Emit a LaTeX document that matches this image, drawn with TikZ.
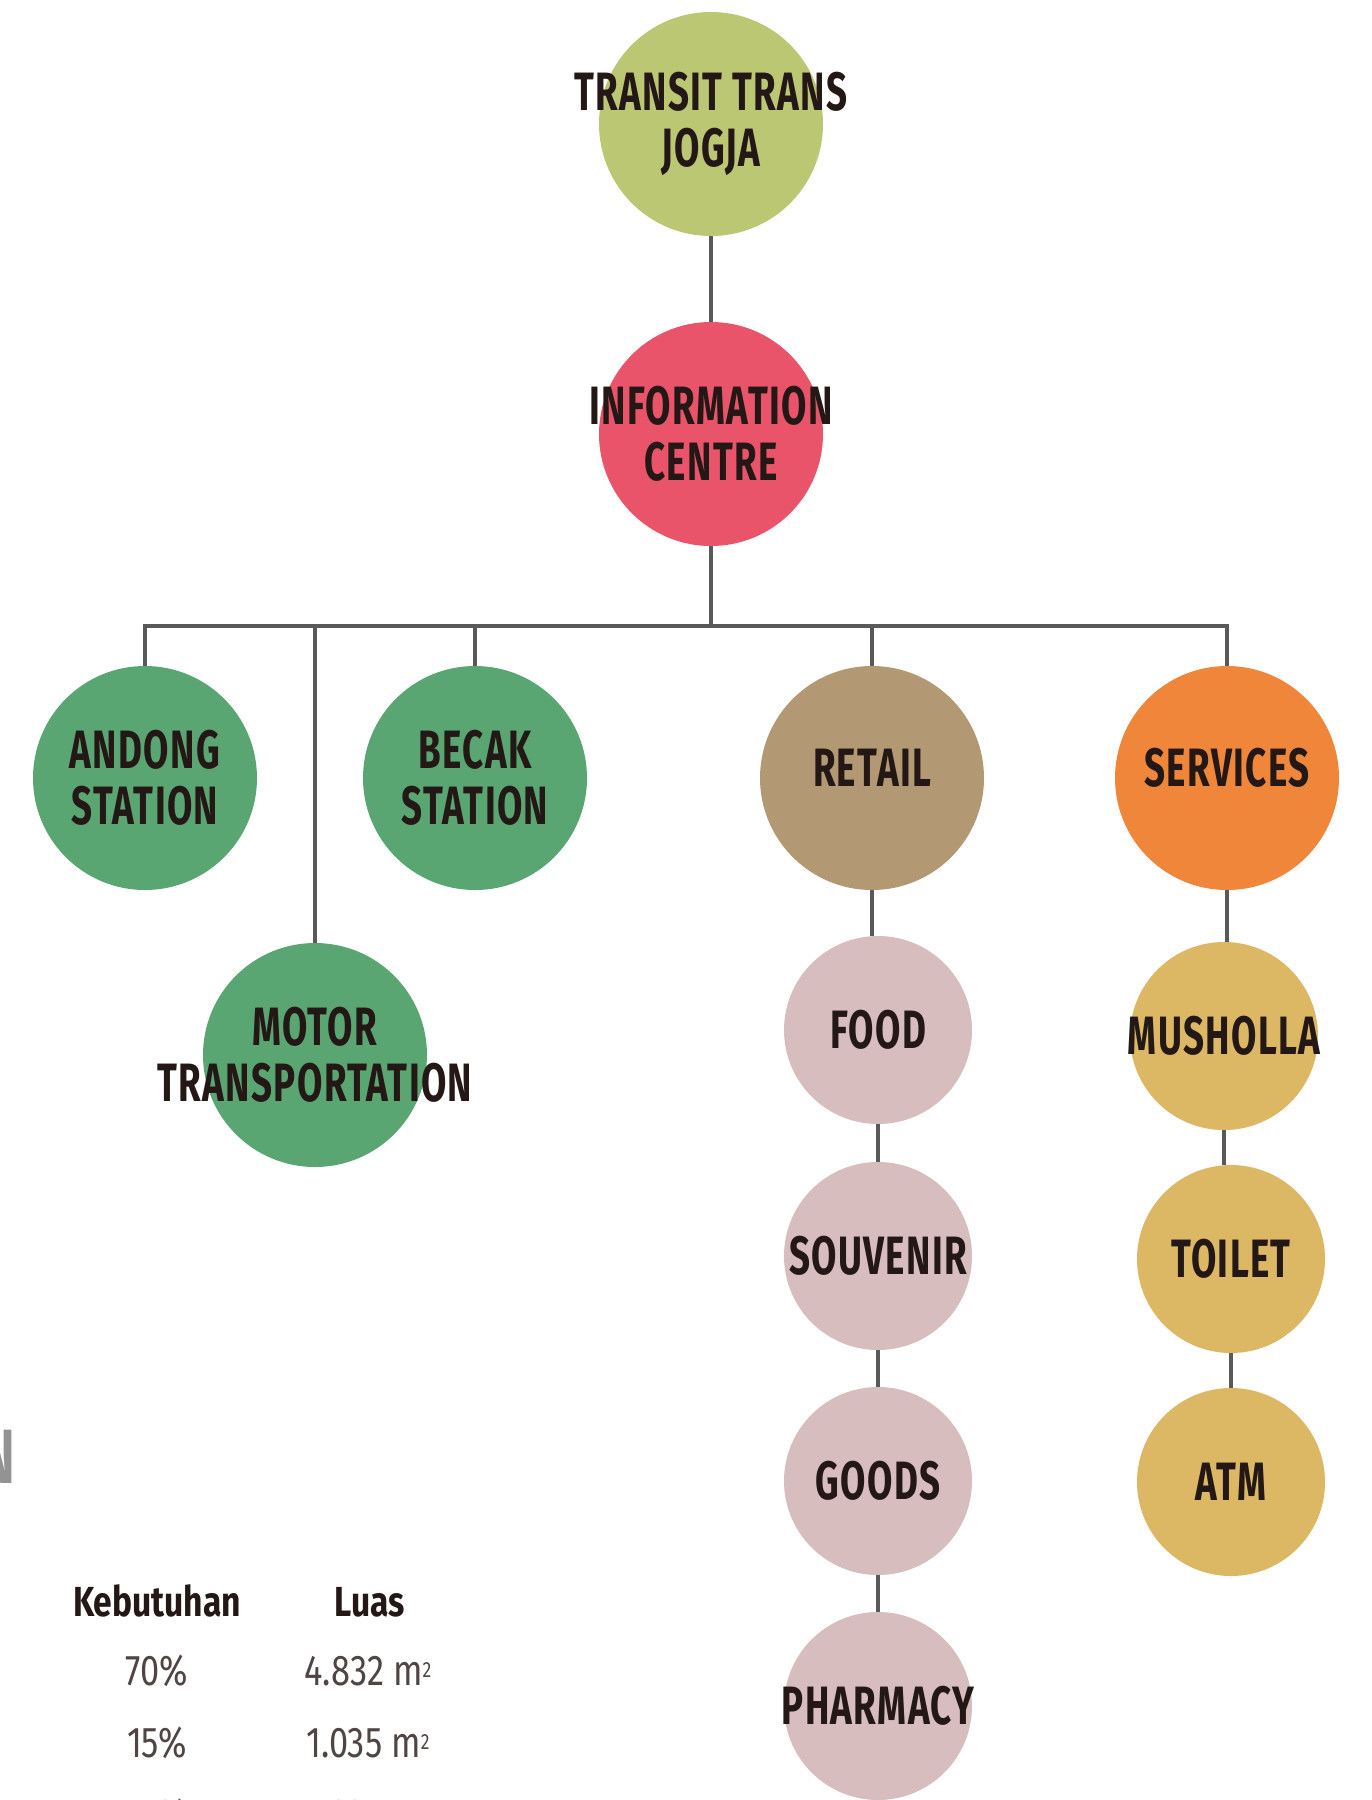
\documentclass[tikz,border=0pt]{standalone}
\usepackage{fontspec}
\setmainfont{Fira Sans}
\newfontfamily\condfont{Fira Sans}[FakeStretch=0.68, LetterSpace=2.5]
\newfontfamily\tablefont{Fira Sans}[FakeStretch=0.8]
\usetikzlibrary{calc}

\definecolor{ink}{HTML}{231815}
\definecolor{linegray}{HTML}{595959}
\definecolor{transitgreen}{HTML}{BCC773}
\definecolor{infored}{HTML}{E9546B}
\definecolor{stationgreen}{HTML}{5AA673}
\definecolor{retailbrown}{HTML}{B39874}
\definecolor{serviceorange}{HTML}{F0863A}
\definecolor{retailpink}{HTML}{D7BDBE}
\definecolor{serviceyellow}{HTML}{DCB865}

\newcommand{\sqm}{m\raisebox{8pt}{\fontsize{22}{22}\selectfont 2}}

\begin{document}
\begin{tikzpicture}[x=1pt, y=-1pt,
  bigc/.style={circle, minimum size=224pt, inner sep=0pt},
  smallc/.style={circle, minimum size=188pt, inner sep=0pt},
  lbl/.style={font=\condfont\bfseries\fontsize{54}{56}\selectfont, text=ink, align=center, inner sep=0pt},
  link/.style={draw=linegray, line width=4.5pt},
  head/.style={font=\tablefont\bfseries\fontsize{42}{48}\selectfont, text=ink, anchor=base, inner sep=0pt},
  cell/.style={font=\tablefont\fontsize{43}{48}\selectfont, text=ink!80, anchor=base, inner sep=0pt}]
% page
\useasboundingbox (0,0) rectangle (1372,1800);
\fill[white] (0,0) rectangle (1372,1800);
\clip (0,0) rectangle (1372,1800);
% Top of the tree
\node[bigc, fill=transitgreen, label={[lbl]center:{TRANSIT TRANS\\JOGJA}}] (transit) at (711,124) {};
\node[bigc, fill=infored, label={[lbl]center:{INFORMATION\\CENTRE}}] (info) at (711,434) {};
% Stations - green circles
\node[bigc, fill=stationgreen, label={[lbl]center:{ANDONG\\STATION}}] (andong) at (145,778) {};
\node[bigc, fill=stationgreen, label={[lbl]center:{BECAK\\STATION}}] (becak) at (475,778) {};
\node[bigc, fill=stationgreen, label={[lbl]center:{MOTOR\\TRANSPORTATION}}] (motor) at (315,1055) {};
% Retail branch
\node[bigc, fill=retailbrown, label={[lbl, yshift=10pt]center:RETAIL}] (retail) at (872,778) {};
\node[smallc, fill=retailpink, label={[lbl]center:FOOD}] (food) at (878,1030) {};
\node[smallc, fill=retailpink, label={[lbl]center:SOUVENIR}] (souvenir) at (878,1256) {};
\node[smallc, fill=retailpink, label={[lbl]center:GOODS}] (goods) at (878,1481) {};
\node[smallc, fill=retailpink, label={[lbl]center:PHARMACY}] (pharmacy) at (878,1706) {};
% Services branch
\node[bigc, fill=serviceorange, label={[lbl, yshift=10pt]center:SERVICES}] (services) at (1227,778) {};
\node[smallc, fill=serviceyellow, label={[lbl]center:MUSHOLLA}] (musholla) at (1224,1036) {};
\node[smallc, fill=serviceyellow, label={[lbl]center:TOILET}] (toilet) at (1231,1259) {};
\node[smallc, fill=serviceyellow, label={[lbl]center:ATM}] (atm) at (1231,1482) {};
% Connectors
\coordinate (bus) at (711,626);
\draw[link] (transit) -- (info);
\draw[link] (info) -- (bus);
\draw[link] (andong.north) |- (bus) -| (services.north);
\foreach \n in {motor,becak,retail}
  \draw[link] (\n.north) -- (\n.north |- bus);
\draw[link] (retail.south) -- (retail.south |- food.north);
\draw[link] (food) -- (souvenir);
\draw[link] (souvenir) -- (goods);
\draw[link] (goods) -- (pharmacy);
\draw[link] (services.south) -- (services.south |- musholla.north);
\draw[link] (musholla.south) -- (musholla.south |- toilet.north);
\draw[link] (toilet) -- (atm);
% Title tail and area table
\node[font=\condfont\bfseries\fontsize{77}{80}\selectfont, text=gray!85, anchor=base east, inner sep=0pt] (titletail) at (15,1483) {N};
\node[head] (kebutuhan) at (157,1616) {Kebutuhan};
\node[head] (luas) at (370,1616) {Luas};
\node[cell] (need1) at (157,1685) {70\%};
\node[cell] (area1) at (368,1685) {4.832 \sqm};
\node[cell] (need2) at (157,1757) {15\%};
\node[cell] (area2) at (368,1757) {1.035 \sqm};
\node[cell] (need3) at (157,1829) {15\%};
\node[cell] (area3) at (368,1829) {1.035 \sqm};
\end{tikzpicture}
\end{document}
